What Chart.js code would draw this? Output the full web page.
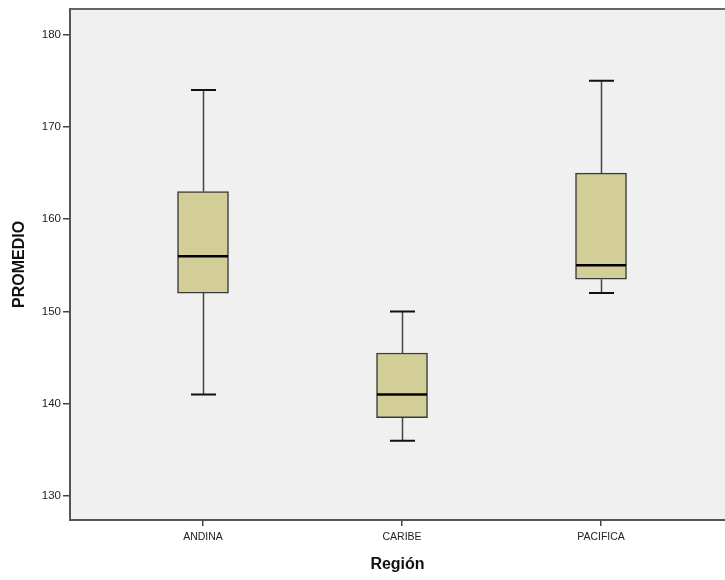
<!DOCTYPE html>
<html>
<head>
<meta charset="utf-8">
<script src="https://cdn.jsdelivr.net/npm/chart.js@4/dist/chart.umd.min.js"></script>
<style>
  body { margin: 0; background: #fff; }
  canvas { display: block; }
</style>
</head>
<body>
<canvas id="grafico" width="725" height="580"></canvas>
<script>
// datos del diagrama de cajas
const regiones = ["ANDINA", "CARIBE", "PACIFICA"];
const posiciones = [1, 2, 3];
const bigoteInf = [141, 136, 152];
const q1 = [152, 138.5, 153.5];
const mediana = [156, 141, 155];
const q3 = [163, 145.5, 165];
const bigoteSup = [174, 150, 175];
const ticksY = [130, 140, 150, 160, 170, 180];

const fuente = "'Liberation Sans', Arial, sans-serif";

var cajas = posiciones.map(function (p, i) {
  return { x: p, y: [q1[i], q3[i]] };
});

// fondo gris y borde superior del area
const fondo = {
  id: 'fondo',
  beforeDraw(chart) {
    const a = chart.chartArea;
    const c = chart.ctx;
    c.save();
    c.fillStyle = '#f0f0f0';
    c.fillRect(a.left, a.top, a.right - a.left, a.bottom - a.top);
    c.strokeStyle = '#666';
    c.lineWidth = 2;
    c.beginPath();
    c.moveTo(a.left, a.top);
    c.lineTo(a.right, a.top);
    c.stroke();
    c.restore();
  }
};

// bigotes y medianas
const bigotes = {
  id: 'bigotes',
  beforeDatasetsDraw(chart) {
    const x = chart.scales.x, y = chart.scales.y, c = chart.ctx;
    c.save();
    for (var i = 0; i < posiciones.length; i++) {
      var px = Math.round(x.getPixelForValue(posiciones[i])) + 0.5;
      c.strokeStyle = '#444';
      c.lineWidth = 1.5;
      c.beginPath();
      c.moveTo(px, y.getPixelForValue(bigoteSup[i]));
      c.lineTo(px, y.getPixelForValue(q3[i]));
      c.moveTo(px, y.getPixelForValue(q1[i]));
      c.lineTo(px, y.getPixelForValue(bigoteInf[i]));
      c.stroke();
      c.strokeStyle = '#111';
      c.lineWidth = 2;
      c.beginPath();
      c.moveTo(px - 12.5, y.getPixelForValue(bigoteSup[i]));
      c.lineTo(px + 12.5, y.getPixelForValue(bigoteSup[i]));
      c.moveTo(px - 12.5, y.getPixelForValue(bigoteInf[i]));
      c.lineTo(px + 12.5, y.getPixelForValue(bigoteInf[i]));
      c.stroke();
    }
    c.restore();
  },
  afterDatasetsDraw(chart) {
    const x = chart.scales.x, y = chart.scales.y, c = chart.ctx;
    c.save();
    c.strokeStyle = '#000';
    c.lineWidth = 2.5;
    for (var i = 0; i < posiciones.length; i++) {
      var px = x.getPixelForValue(posiciones[i]);
      var py = y.getPixelForValue(mediana[i]);
      c.beginPath();
      c.moveTo(px - 25, py);
      c.lineTo(px + 25, py);
      c.stroke();
    }
    c.restore();
  }
};

var chart = new Chart(document.getElementById('grafico').getContext('2d'), {
  type: 'bar',
  data: {
    datasets: [{
      label: 'PROMEDIO',
      data: cajas,
      backgroundColor: '#d3ce97',
      borderColor: '#3a3a3a',
      borderWidth: 1.5,
      borderSkipped: false,
      barThickness: 51
    }]
  },
  options: {
    responsive: false,
    animation: false,
    layout: { padding: { top: 6, right: 0, left: 0, bottom: 0 } },
    plugins: { legend: { display: false }, tooltip: { enabled: false } },
    scales: {
      x: {
        type: 'linear',
        offset: false,
        min: 0.3317,
        max: 3.623,
        afterBuildTicks: function (s) { s.ticks = posiciones.map(function (v) { return { value: v }; }); },
        afterFit: function (s) { s.height = 60; },
        ticks: {
          autoSkip: false,
          maxRotation: 0,
          color: '#222',
          font: { family: fuente, size: 10.5 },
          padding: 5,
          callback: function (v) { return regiones[posiciones.indexOf(v)]; }
        },
        grid: { offset: false, drawOnChartArea: false, tickLength: 6, color: '#444', lineWidth: 1.5 },
        border: { display: true, color: '#555', width: 2 },
        title: {
          display: true,
          text: 'Región',
          color: '#111',
          font: { family: fuente, size: 16, weight: 'bold' },
          padding: { top: 4, bottom: 6 }
        }
      },
      y: {
        min: 127.4,
        max: 182.8,
        afterBuildTicks: function (s) { s.ticks = ticksY.map(function (v) { return { value: v }; }); },
        afterFit: function (s) { s.width = 70; },
        ticks: { color: '#222', font: { family: fuente, size: 11.5 }, padding: 2 },
        grid: { drawOnChartArea: false, tickLength: 7, color: '#444', lineWidth: 1.5 },
        border: { display: true, color: '#555', width: 2 },
        title: {
          display: true,
          text: 'PROMEDIO',
          color: '#111',
          font: { family: fuente, size: 16, weight: 'bold' },
          padding: { top: 10, bottom: 4 }
        }
      }
    }
  },
  plugins: [fondo, bigotes]
});
</script>
</body>
</html>
